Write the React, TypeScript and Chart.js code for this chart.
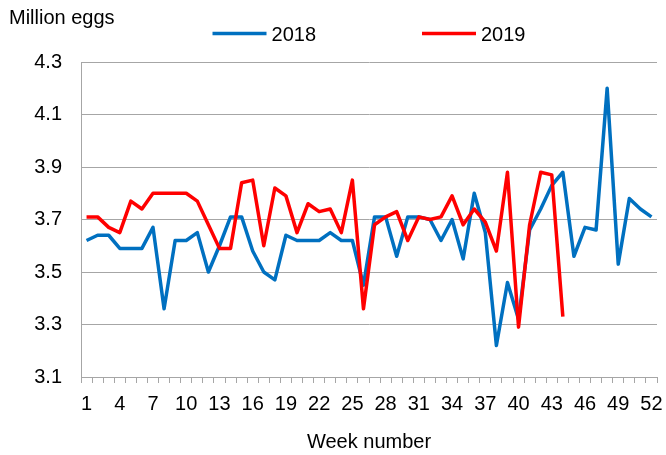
import React, { useEffect, useRef } from "react";
import { Chart, registerables } from "chart.js";

Chart.register(...registerables);

const weeks: string[] = [
  "1", "2", "3", "4", "5", "6", "7", "8", "9", "10", "11", "12", "13",
  "14", "15", "16", "17", "18", "19", "20", "21", "22", "23", "24", "25", "26",
  "27", "28", "29", "30", "31", "32", "33", "34", "35", "36", "37", "38", "39",
  "40", "41", "42", "43", "44", "45", "46", "47", "48", "49", "50", "51", "52",
];

const eggs2018: number[] = [
  3.62, 3.64, 3.64, 3.59, 3.59, 3.59, 3.67, 3.36, 3.62, 3.62, 3.65, 3.5, 3.6,
  3.71, 3.71, 3.58, 3.5, 3.47, 3.64, 3.62, 3.62, 3.62, 3.65, 3.62, 3.62, 3.45,
  3.71, 3.71, 3.56, 3.71, 3.71, 3.7, 3.62, 3.7, 3.55, 3.8, 3.65, 3.22, 3.46,
  3.32, 3.66, 3.74, 3.83, 3.88, 3.56, 3.67, 3.66, 4.2, 3.53, 3.78, 3.74, 3.71,
];

const eggs2019: number[] = [
  3.71, 3.71, 3.67, 3.65, 3.77, 3.74, 3.8, 3.8, 3.8, 3.8, 3.77, 3.68, 3.59,
  3.59, 3.84, 3.85, 3.6, 3.82, 3.79, 3.65, 3.76, 3.73, 3.74, 3.65, 3.85, 3.36,
  3.68, 3.71, 3.73, 3.62, 3.71, 3.7, 3.71, 3.79, 3.68, 3.74, 3.69, 3.58, 3.88,
  3.29, 3.68, 3.88, 3.87, 3.33,
];

const seriesNames: string[] = ["2018", "2019"];
const yTitle = "Million eggs";
const xTitle = "Week number";

const FONT = "'Liberation Sans', Arial, sans-serif";
const BLUE = "#0070C0";
const RED = "#FF0000";
const GRID = "#A6A6A6";

const overlayPlugin = {
  id: "overlay",
  afterDraw(chart: any) {
    const ctx = chart.ctx as CanvasRenderingContext2D;
    const area = chart.chartArea;
    ctx.save();
    ctx.fillStyle = "#000";
    ctx.font = `20px ${FONT}`;
    ctx.textBaseline = "alphabetic";
    ctx.textAlign = "left";
    ctx.fillText(yTitle, 9, 24);

    // legend
    const lineLen = 54;
    const gap = 5;
    const between = 106;
    const items = chart.data.datasets.map((ds: any) => ({
      label: ds.label as string,
      color: ds.borderColor as string,
      w: lineLen + gap + ctx.measureText(ds.label).width,
    }));
    const total =
      items.reduce((s: number, it: any) => s + it.w, 0) +
      between * (items.length - 1);
    let x = (area.left + area.right) / 2 - total / 2;
    const y = 33.5;
    for (const it of items) {
      ctx.strokeStyle = it.color;
      ctx.lineWidth = 3.5;
      ctx.lineCap = "butt";
      ctx.beginPath();
      ctx.moveTo(x, y);
      ctx.lineTo(x + lineLen, y);
      ctx.stroke();
      ctx.fillText(it.label, x + lineLen + gap, y + 7);
      x += it.w + between;
    }
    ctx.restore();
  },
};

export default function App() {
  const ref = useRef<HTMLCanvasElement | null>(null);

  useEffect(() => {
    document.body.style.margin = "0";
    const canvas = ref.current;
    if (!canvas) return;
    const chart = new Chart(canvas, {
      type: "line",
      data: {
        labels: weeks,
        datasets: [
          {
            label: seriesNames[0],
            data: eggs2018,
            borderColor: BLUE,
            backgroundColor: BLUE,
            borderWidth: 3.5,
            pointRadius: 0,
            tension: 0,
            borderJoinStyle: "round",
            order: 1,
          },
          {
            label: seriesNames[1],
            data: eggs2019,
            borderColor: RED,
            backgroundColor: RED,
            borderWidth: 3.5,
            pointRadius: 0,
            tension: 0,
            borderJoinStyle: "round",
            order: 0,
          },
        ],
      },
      options: {
        responsive: false,
        animation: false,
        devicePixelRatio: 1,
        layout: { padding: { top: 62, left: 0, right: 9, bottom: 0 } },
        plugins: {
          legend: { display: false },
          tooltip: { enabled: false },
          title: { display: false },
        },
        scales: {
          x: {
            type: "category",
            offset: true,
            grid: {
              display: true,
              offset: true,
              drawOnChartArea: false,
              drawTicks: true,
              tickLength: 6,
              color: GRID,
            },
            border: { display: true, color: GRID, width: 1 },
            ticks: {
              autoSkip: false,
              maxRotation: 0,
              minRotation: 0,
              padding: 9,
              color: "#000",
              font: { family: FONT, size: 20 },
              callback: (_v: any, i: number) => (i % 3 === 0 ? weeks[i] : ""),
            },
            title: {
              display: true,
              text: xTitle,
              color: "#000",
              font: { family: FONT, size: 20 },
              padding: { top: 14, bottom: 1 },
            },
            afterFit: (s: any) => {
              s.height = 78;
              s.paddingRight = 0;
              s.paddingLeft = 0;
            },
          },
          y: {
            min: 3.1,
            max: 4.3,
            grid: {
              color: GRID,
              lineWidth: 1,
              drawTicks: false,
            },
            border: { display: true, color: GRID, width: 1 },
            ticks: {
              stepSize: 0.2,
              padding: 19,
              color: "#000",
              font: { family: FONT, size: 20 },
              callback: (v: any) => Number(v).toFixed(1),
            },
            afterFit: (s: any) => {
              s.width = 81;
            },
          },
        },
      },
      plugins: [overlayPlugin],
    });
    return () => chart.destroy();
  }, []);

  return (
    <div style={{ width: 666, height: 455, background: "#fff" }}>
      <canvas ref={ref} width={666} height={455} style={{ display: "block" }} />
    </div>
  );
}
